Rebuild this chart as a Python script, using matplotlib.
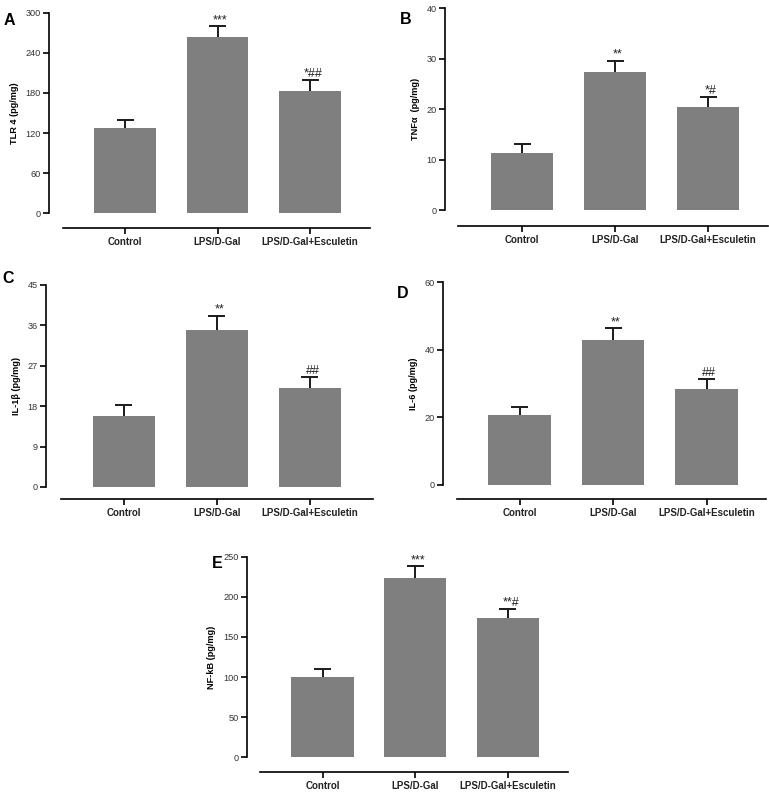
import numpy as np
import matplotlib
matplotlib.use('Agg')
import matplotlib.pyplot as plt

plt.rcParams['font.family'] = ['Liberation Sans', 'DejaVu Sans']

# ========================
# 데이터
# ========================
groups = ['Control', 'LPS/D-Gal', 'LPS/D-Gal+Esculetin']

tlr4_mean = [128, 264, 183]
tlr4_err = [12, 16, 16]
tlr4_sig = ['', '***', '*##']

tnfa_mean = [11.3, 27.3, 20.5]
tnfa_err = [1.8, 2.3, 1.9]
tnfa_sig = ['', '**', '*#']

il1b_mean = [15.9, 35.0, 22.1]
il1b_err = [2.3, 3.1, 2.4]
il1b_sig = ['', '**', '##']

il6_mean = [20.6, 43.0, 28.3]
il6_err = [2.5, 3.4, 3.1]
il6_sig = ['', '**', '##']

nfkb_mean = [100, 224, 173]
nfkb_err = [10, 14, 12]
nfkb_sig = ['', '***', '**#']

W, H = 769, 794
fig = plt.figure(figsize=(W / 100, H / 100), dpi=100)


# ========================
# 패널 그리기 (GraphPad 스타일)
# ========================
def panel(px, means, errs, sigs, ylabel, yticks, letter, lpos):
    # px: y축 x, 첫 막대 중심, 막대 간격, x선 시작, x선 끝, 위, 아래, x선 y
    yx, c0, s, ls, le, top, bot, xline = px
    ax = fig.add_axes([yx / W, 1 - bot / H, (le - yx) / W, (bot - top) / H])
    x = np.arange(len(means))
    means = np.array(means)
    errs = np.array(errs)
    ax.bar(x, means, width=0.67, color='#7f7f7f', zorder=2)
    # 위쪽 에러바만
    cap = 8.5 / s
    ax.vlines(x, means, means + errs, color='#1a1a1a', lw=1.4, zorder=1)
    ax.hlines(means + errs, x - cap, x + cap, color='#1a1a1a', lw=1.4, zorder=1)
    for xi, m, e, t in zip(x, means, errs, sigs):
        if t:
            ax.text(xi + 0.03, m + e, t, ha='center', va='bottom', fontsize=9,
                    color='#222222')
    xl = (yx - c0) / s
    xr = 2 + (le - (c0 + 2 * s)) / s
    ax.set_xlim(xl, xr)
    ax.set_ylim(yticks[0], yticks[-1])
    ax.set_yticks(yticks)
    ax.set_xticks(x)
    ax.set_xticklabels(groups)
    ax.set_ylabel(ylabel, fontsize=6.6, fontweight='bold', labelpad=5)
    for sp in ['top', 'right']:
        ax.spines[sp].set_visible(False)
    ax.spines['left'].set_linewidth(1.2)
    ax.spines['bottom'].set_linewidth(1.2)
    ax.spines['bottom'].set_position(('outward', (xline - bot) * 0.72))
    ax.spines['bottom'].set_bounds((ls - c0) / s, xr)
    ax.tick_params(axis='y', length=4.5, width=1.2, pad=1.2, labelsize=6.6,
                   labelcolor='#333333')
    ax.tick_params(axis='x', length=4, width=1.2, pad=2.5, labelsize=7,
                   labelcolor='#222222')
    for lab in ax.get_xticklabels():
        lab.set_fontweight('bold')
    fig.text(lpos[0] / W, 1 - lpos[1] / H, letter, fontsize=11.5,
             fontweight='bold', ha='center', va='center')
    return ax


panel((49, 125, 92.5, 63, 370, 13, 213, 228), tlr4_mean, tlr4_err, tlr4_sig,
      'TLR 4 (pg/mg)', [0, 60, 120, 180, 240, 300], 'A', (9.5, 20.5))
panel((445, 522, 93, 458, 768, 8.3, 210.3, 225.7), tnfa_mean, tnfa_err, tnfa_sig,
      'TNFα  (pg/mg)', [0, 10, 20, 30, 40], 'B', (405.5, 19))
panel((45.7, 123.7, 93, 61, 373, 284.7, 487, 499.3), il1b_mean, il1b_err, il1b_sig,
      'IL-1β (pg/mg)', [0, 9, 18, 27, 36, 45], 'C', (8.5, 278))
panel((442.7, 519.5, 93.5, 456.7, 766, 282, 485, 499.3), il6_mean, il6_err, il6_sig,
      'IL-6 (pg/mg)', [0, 20, 40, 60], 'D', (403, 293))
panel((246.7, 322.5, 92.7, 260, 568, 556.7, 757.3, 772.3), nfkb_mean, nfkb_err, nfkb_sig,
      'NF-kB (pg/mg)', [0, 50, 100, 150, 200, 250], 'E', (217.5, 563))

fig.savefig('out.png', dpi=100)
